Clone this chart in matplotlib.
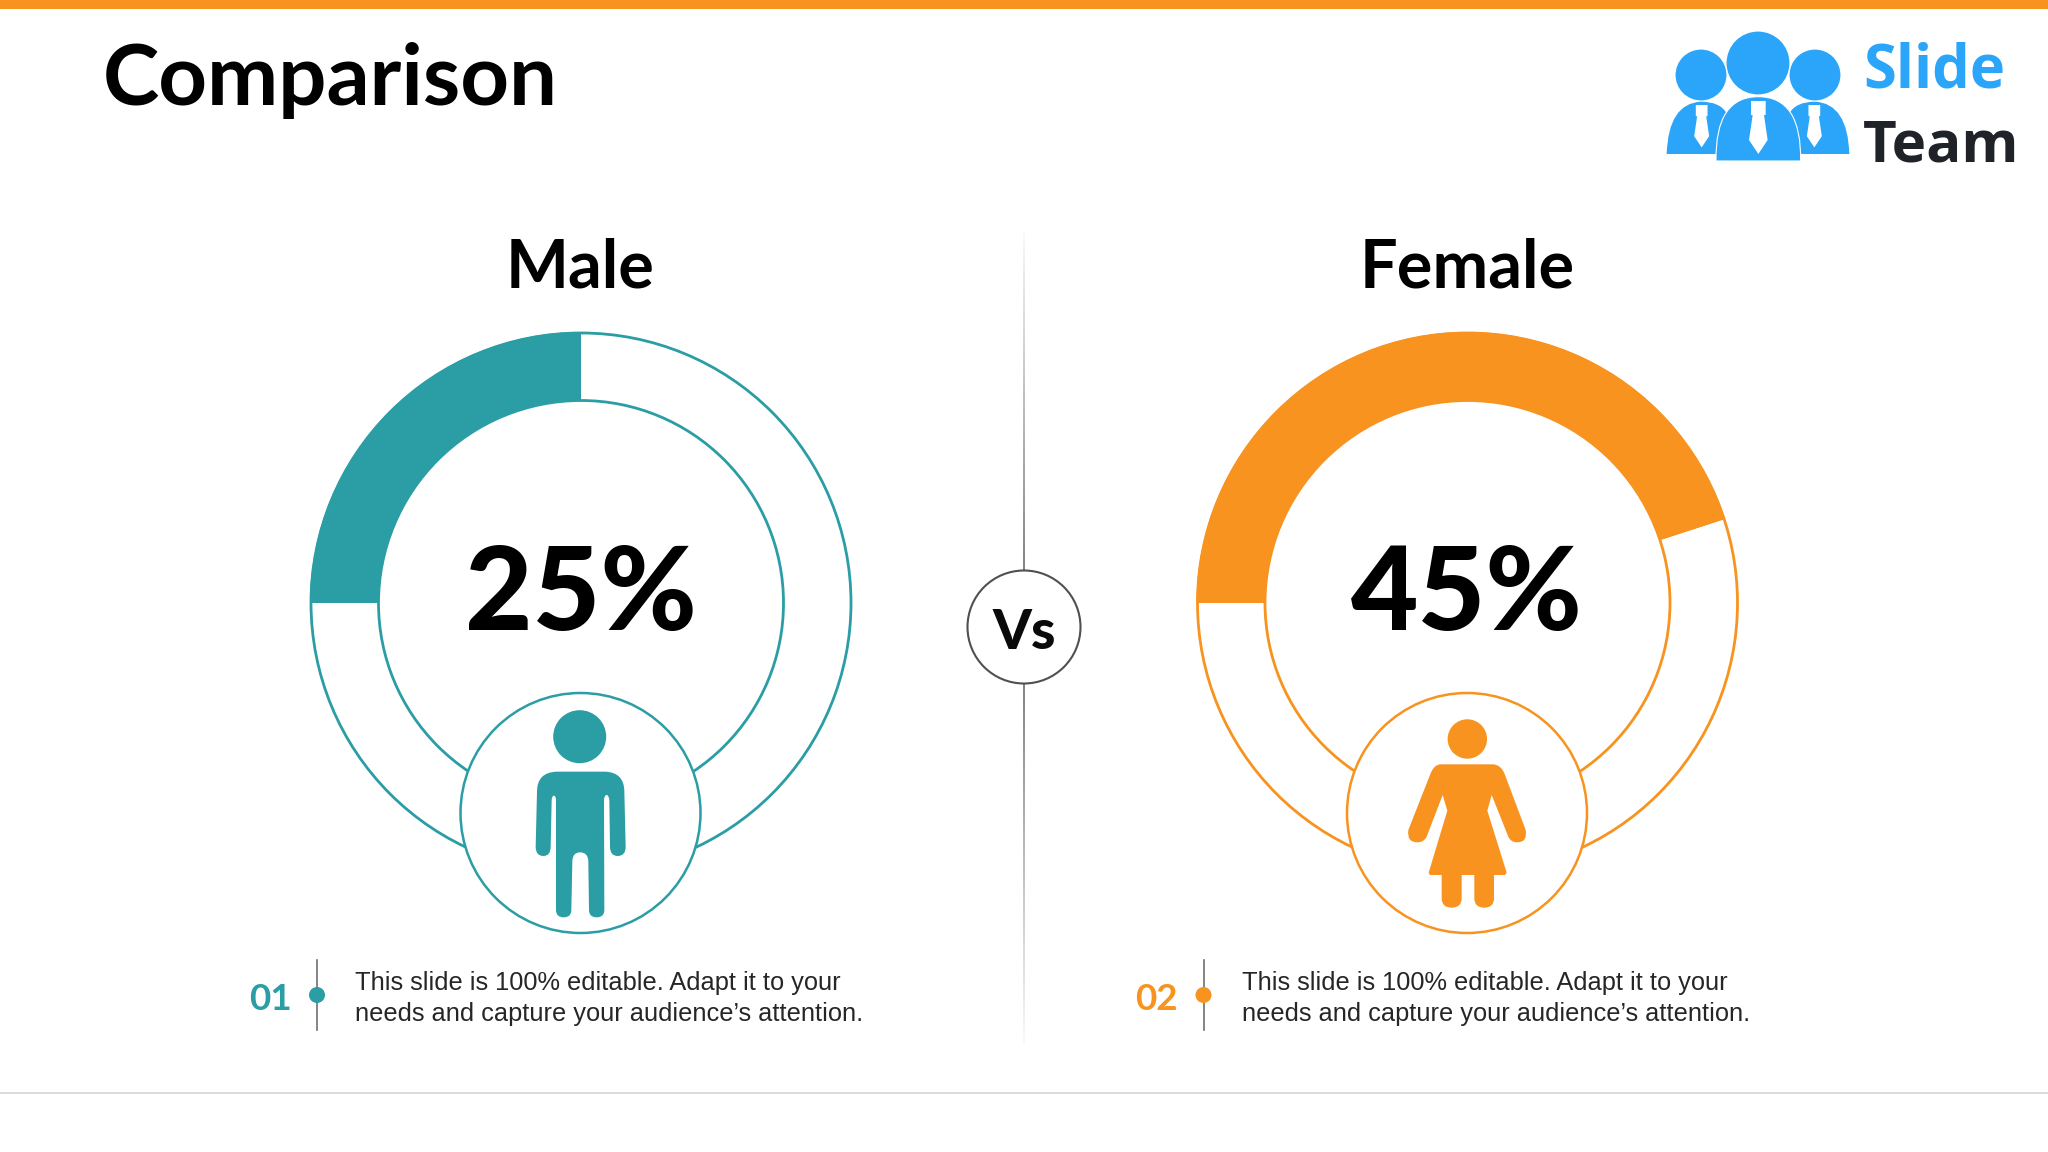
#!/usr/bin/python3
# Comparison slide, male vs female donuts
import numpy as np
import matplotlib
matplotlib.use('Agg')
from matplotlib import pyplot as plt
from matplotlib.collections import LineCollection
from matplotlib.patches import Circle, PathPatch, Rectangle, Polygon
from matplotlib.path import Path

## data
categories = ['Male', 'Female']
shares = [25, 45]
share_labels = ['25%', '45%']
numbers = ['01', '02']
notes = ['This slide is 100% editable. Adapt it to your\nneeds and capture your audience\u2019s attention.'] * 2

TEAL = '#2A9DA5'
ORANGE = '#F7931E'
BLUE = '#2AA5FA'
colors = [TEAL, ORANGE]
centers_x = [580.5, 1467]

W, H = 2048, 1152
fig = plt.figure(figsize=(20.48, 11.52), dpi=100)
ax = fig.add_axes([0, 0, 1, 1])


def fy(y):
    ## picture pixels run downwards, the axes run upwards
    return H - y


def shape(points, ox, oy, scale=1 / 3):
    ## points: 'M'/'L' take one point, 'Q' takes a control and an end point
    verts, codes = [], []
    def conv(p):
        return (ox + p[0] * scale, fy(oy + p[1] * scale))
    for item in points:
        if item[0] == 'Q':
            verts += [conv(item[1]), conv(item[2])]
            codes += [Path.CURVE3, Path.CURVE3]
        else:
            verts.append(conv(item[1]))
            codes.append(Path.MOVETO if item[0] == 'M' else Path.LINETO)
    verts.append(verts[0])
    codes.append(Path.CLOSEPOLY)
    return Path(verts, codes)


def fade_line(x, y_far, y_near):
    ## grey line, dark at the Vs circle and gone at the far end
    ys = np.linspace(y_far, y_near, 60)
    segs = [[(x, fy(a)), (x, fy(b))] for a, b in zip(ys[:-1], ys[1:])]
    grey = np.linspace(0.97, 0.42, len(segs))
    ax.add_collection(LineCollection(segs, colors=[(g, g, g) for g in grey], linewidths=1.2))


male_body = [
    ('M', (350, 275)), ('L', (495, 275)), ('Q', (553, 277), (553, 335)), ('L', (557, 500)),
    ('Q', (557, 528), (533, 528)), ('Q', (510, 528), (510, 500)), ('L', (508, 360)),
    ('Q', (506, 345), (500, 345)), ('Q', (493, 345), (492, 360)), ('L', (493, 690)),
    ('Q', (493, 712), (470, 712)), ('Q', (447, 712), (447, 690)), ('L', (445, 545)),
    ('Q', (445, 517), (420, 517)), ('Q', (397, 517), (397, 545)), ('L', (394, 690)),
    ('Q', (394, 712), (371, 712)), ('Q', (348, 712), (348, 690)), ('L', (348, 360)),
    ('Q', (347, 347), (342, 347)), ('Q', (336, 347), (335, 360)), ('L', (332, 500)),
    ('Q', (332, 528), (310, 528)), ('Q', (287, 528), (287, 500)), ('L', (291, 335)),
    ('Q', (291, 277), (350, 275)),
]
female_body = [
    ('M', (360, 253)), ('L', (520, 253)), ('Q', (545, 255), (555, 285)), ('L', (617, 450)),
    ('Q', (623, 487), (592, 487)), ('Q', (572, 487), (565, 470)), ('L', (515, 345)),
    ('L', (502, 392)), ('L', (560, 578)), ('L', (555, 585)), ('L', (522, 585)), ('L', (522, 655)),
    ('Q', (522, 683), (493, 683)), ('Q', (463, 683), (463, 655)), ('L', (463, 585)),
    ('L', (425, 585)), ('L', (425, 655)), ('Q', (425, 683), (395, 683)),
    ('Q', (365, 683), (365, 655)), ('L', (365, 585)), ('L', (330, 585)), ('L', (326, 578)),
    ('L', (382, 392)), ('L', (368, 345)), ('L', (320, 470)), ('Q', (312, 487), (292, 487)),
    ('Q', (260, 487), (265, 450)), ('L', (330, 285)), ('Q', (340, 255), (360, 253)),
]

## top bar and bottom rule
ax.add_patch(Rectangle((0, fy(9)), W, 9, color=ORANGE, lw=0))
ax.plot([0, W], [fy(1093), fy(1093)], color='#DCDCDC', lw=1.4)

ax.text(103, fy(105), 'Comparison', fontsize=61.2, family='Lato', weight='bold', color='black', va='baseline')

## center divider, fades toward both ends
fade_line(1024, 232, 572)
fade_line(1024, 1045, 682)
ax.add_patch(Circle((1024, fy(627)), 56.5, fc='white', ec='#505050', lw=1.5, zorder=3))
ax.text(1024, fy(649), 'Vs', fontsize=40, family='Lato', weight='black', color='#0A0A0A',
        ha='center', va='baseline', zorder=4)

cy = fy(603)
for i, name in enumerate(categories):
    cx = centers_x[i]
    col = colors[i]
    ax.pie([shares[i], 100 - shares[i]], colors=[col, 'white'], radius=271, center=(cx + 0.5, cy),
           startangle=180, counterclock=False, frame=True, wedgeprops=dict(width=68.5, lw=0))
    ax.add_patch(Circle((cx + 0.5, cy), 270, fc='none', ec=col, lw=2.0))
    ax.add_patch(Circle((cx + 0.5, cy), 202.5, fc='none', ec=col, lw=2.0))
    ax.text(cx, fy(288), name, fontsize=48, family='Lato', weight='bold', color='black',
            ha='center', va='baseline')
    ax.text(cx, fy(630), share_labels[i], fontsize=84, family='Lato', weight='black', color='black',
            ha='center', va='baseline')

    ## person badge
    ax.add_patch(Circle((cx, fy(813)), 120, fc='white', ec=col, lw=1.8, zorder=5))

    ## footer: number, tick with dot, note
    lx = cx - 263.5
    ax.plot([lx, lx], [fy(960), fy(1030)], color='#707070', lw=1.2)
    ax.add_patch(Circle((lx, fy(995)), 8, fc=col, lw=0, zorder=4))
    ax.text(lx - 47, fy(1000), numbers[i], fontsize=26.5, family='Lato', weight='bold', color=col,
            ha='center', va='center')
    ax.text(cx - 225.5, fy(998.5), notes[i], fontsize=18.3, family='Liberation Sans', color='#262626',
            va='center', linespacing=1.36)

ax.add_patch(Circle((579.7, fy(736.7)), 26.5, fc=TEAL, lw=0, zorder=6))
ax.add_patch(PathPatch(shape(male_body, 440, 680), fc=TEAL, lw=0, zorder=6))
ax.add_patch(Circle((1320 + 442 / 3, fy(680 + 177 / 3)), 19.7, fc=ORANGE, lw=0, zorder=6))
ax.add_patch(PathPatch(shape(female_body, 1320, 680), fc=ORANGE, lw=0, zorder=6))

## logo
for hx, hy, r in [(1701, 75, 26), (1815, 75, 26), (1758, 63, 32)]:
    ax.add_patch(Circle((hx, fy(hy)), r, fc=BLUE, ec='white', lw=0.8, zorder=6))
side_l = [('M', (80, 462)), ('Q', (85, 310), (183, 305)), ('Q', (240, 305), (260, 340)),
          ('L', (235, 462))]
side_r = [('M', (628, 462)), ('Q', (623, 310), (525, 305)), ('Q', (468, 305), (448, 340)),
          ('L', (473, 462))]
mid = [('M', (228, 483)), ('Q', (225, 290), (355, 290)), ('Q', (485, 290), (482, 483))]
ax.add_patch(PathPatch(shape(side_l, 1640, 0), fc=BLUE, lw=0, zorder=6))
ax.add_patch(PathPatch(shape(side_r, 1640, 0), fc=BLUE, lw=0, zorder=6))
ax.add_patch(PathPatch(shape(mid, 1640, 0), fc=BLUE, ec='white', lw=0.8, zorder=7))
for tx, top, s in [(185, 315, 0.8), (523, 315, 0.8), (355, 303, 1.0)]:
    tie = [(tx - 22 * s, top), (tx + 22 * s, top), (tx + 22 * s, top + 42 * s),
           (tx + 17 * s, top + 42 * s), (tx + 28 * s, top + 117 * s), (tx, top + 159 * s),
           (tx - 28 * s, top + 117 * s), (tx - 17 * s, top + 42 * s), (tx - 22 * s, top + 42 * s)]
    ax.add_patch(Polygon([(1640 + a / 3, fy(b / 3)) for a, b in tie], fc='white', lw=0, zorder=8))
ax.text(1863, fy(87), 'Slide', fontsize=43, family='Open Sans', weight='bold', color=BLUE, va='baseline')
ax.text(1863, fy(161), 'Team', fontsize=42, family='Open Sans', weight='bold', color='#1F2328', va='baseline')

ax.set_xlim(0, W)
ax.set_ylim(0, H)
ax.set_aspect('auto')
ax.axis('off')
fig.savefig('out.png', dpi=100, facecolor='white')
